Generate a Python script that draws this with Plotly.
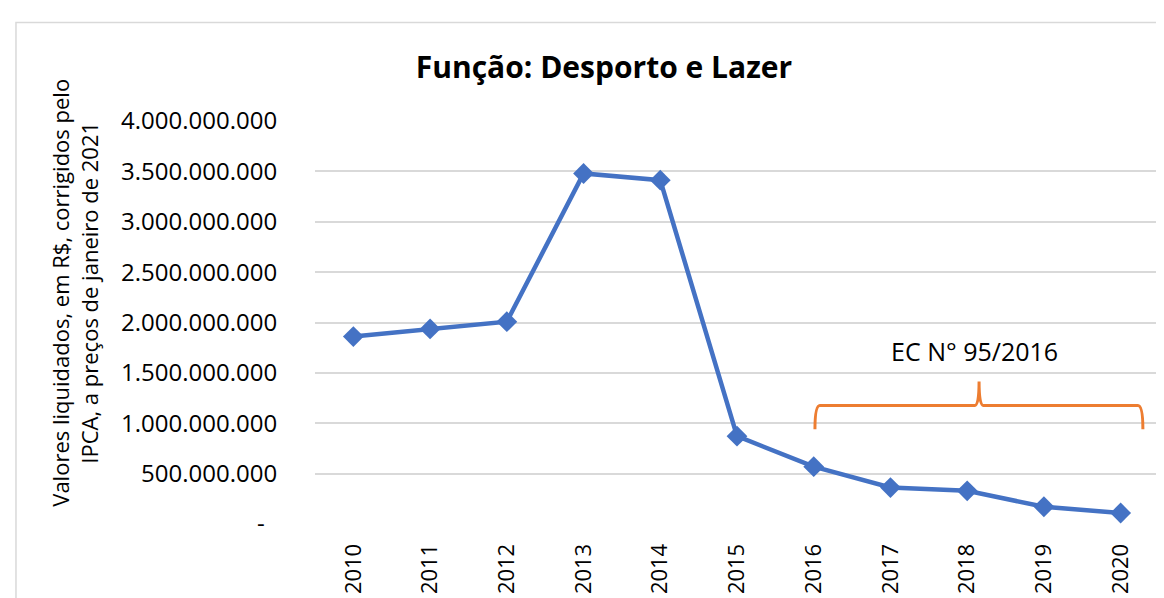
import plotly.graph_objects as go

years = [2010, 2011, 2012, 2013, 2014, 2015, 2016, 2017, 2018, 2019, 2020]
valores = [1.860e9, 1.936e9, 2.008e9, 3.479e9, 3.413e9, 0.872e9,
           0.569e9, 0.362e9, 0.329e9, 0.171e9, 0.109e9]
y_tickvals = [0, 5e8, 1e9, 1.5e9, 2e9, 2.5e9, 3e9, 3.5e9, 4e9]
y_ticktext = ["-\u00a0\u00a0", "500.000.000", "1.000.000.000", "1.500.000.000", "2.000.000.000",
              "2.500.000.000", "3.000.000.000", "3.500.000.000", "4.000.000.000"]
title_text = "<b>Função: Desporto e Lazer</b>"
ytitle = "Valores liquidados, em R$, corrigidos pelo<br>IPCA, a preços de janeiro de 2021"
ec_label = "EC N° 95/2016"

FONT = "Open Sans"
BLUE = "#4472C4"
ORANGE = "#ED7D31"

fig = go.Figure()
fig.add_trace(go.Scatter(
    x=years, y=valores, mode="lines+markers",
    line=dict(color=BLUE, width=4.5),
    marker=dict(symbol="diamond", size=16, color=BLUE),
    showlegend=False, hoverinfo="x+y"))

# Brace (EC 95/2016)
yb, ye, yp = 1.177e9, 0.94e9, 1.414e9
brace = (f"M 2016.016,{ye} Q 2016.016,{yb} 2016.08,{yb} L 2018.1,{yb} "
         f"Q 2018.155,{yb} 2018.155,{yp} Q 2018.155,{yb} 2018.21,{yb} "
         f"L 2020.225,{yb} Q 2020.29,{yb} 2020.29,{ye}")
fig.add_shape(type="path", path=brace, xref="x", yref="y",
              line=dict(color=ORANGE, width=3))
fig.add_annotation(x=2018.1, y=1.719e9, xref="x", yref="y", text=ec_label,
                   showarrow=False, font=dict(family=FONT, size=25, color="#000000"))

# Y axis title
fig.add_annotation(x=-0.285, y=0.575, xref="paper", yref="paper", text=ytitle,
                   textangle=-90, showarrow=False, xanchor="center", yanchor="middle",
                   font=dict(family=FONT, size=22, color="#000000"))

# Outer chart border (left and top visible)
fig.add_shape(type="path", xref="paper", yref="paper",
              path="M -0.3543,-0.3 L -0.3543,1.2444 L 1.1,1.2444",
              line=dict(color="#D9D9D9", width=1.5))

fig.update_layout(
    width=1164, height=598,
    margin=dict(l=307, r=13, t=113, b=80),
    paper_bgcolor="white", plot_bgcolor="white",
    title=dict(text=title_text, x=0.512, xref="container", y=0.9, yref="container",
               xanchor="center", yanchor="middle",
               font=dict(family=FONT, size=30, color="#000000")),
    font=dict(family=FONT, color="#000000"),
    xaxis=dict(range=[2009.5, 2020.5], tickvals=years, ticktext=[str(y) for y in years],
               tickangle=-90, showgrid=False, zeroline=False, showline=False,
               ticks="outside", ticklen=10, tickcolor="rgba(0,0,0,0)",
               tickfont=dict(family=FONT, size=22, color="#000000")),
    yaxis=dict(range=[0, 4e9], tickvals=y_tickvals, ticktext=y_ticktext,
               showgrid=True, gridcolor="#D9D9D9", gridwidth=1.5, zeroline=False,
               showline=False, ticks="outside", ticklen=32, tickcolor="rgba(0,0,0,0)",
               tickfont=dict(family=FONT, size=24, color="#000000")),
)

fig.write_html("out.html")
